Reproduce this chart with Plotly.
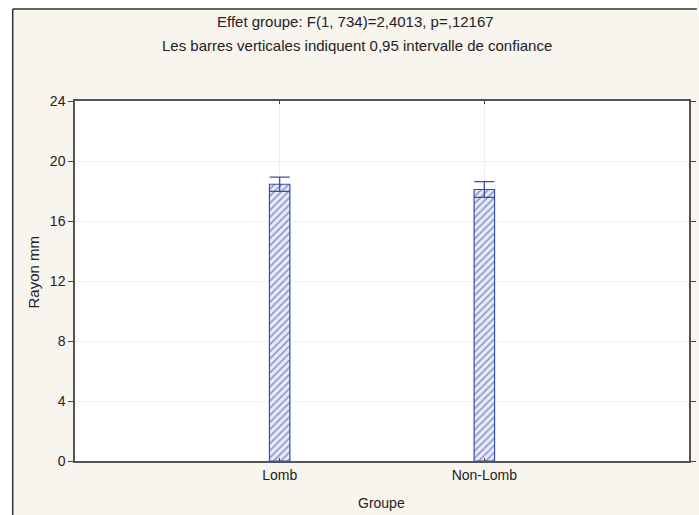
import plotly.graph_objects as go

groups = ["Lomb", "Non-Lomb"]
means = [18.45, 18.1]
ci_half = [0.47, 0.52]
y_ticks = [0, 4, 8, 12, 16, 20, 24]

title_1 = "Effet groupe: F(1, 734)=2,4013, p=,12167"
title_2 = "Les barres verticales indiquent 0,95 intervalle de confiance"
x_title = "Groupe"
y_title = "Rayon mm"

blue = "#3b4ea6"
W, H = 699, 515
L, R, T, B = 75, 3, 101, 54
PW, PH = W - L - R, H - T - B


def px_x(x):
    return (x - L) / PW


def px_y(y):
    return (H - B - y) / PH


fig = go.Figure()
fig.add_trace(go.Bar(
    x=groups, y=means, width=0.1,
    marker=dict(color="#e4e8f6", line=dict(color=blue, width=1.2),
                pattern=dict(shape="/", fgcolor=blue, bgcolor="#e9ecf8", size=5, solidity=0.35)),
    error_y=dict(type="data", array=ci_half, symmetric=True, color=blue, thickness=1.3, width=10),
    showlegend=False,
))

txt = dict(size=14, color="#222222")
fig.update_layout(
    width=W, height=H,
    margin=dict(l=L, r=R, t=T, b=B),
    paper_bgcolor="#f8f4ee", plot_bgcolor="#ffffff",
    font=dict(family="Liberation Sans, Arial, sans-serif", size=14, color="#222222"),
    xaxis=dict(
        range=[-1, 2],
        showline=True, linecolor="#555555", linewidth=1.5, mirror="ticks",
        ticks="inside", ticklen=3, tickcolor="#444444",
        showgrid=True, gridcolor="#efefef", gridwidth=1,
        tickfont=txt,
    ),
    yaxis=dict(
        range=[0, 24], tickvals=y_ticks, ticktext=[str(v) for v in y_ticks],
        showline=True, linecolor="#555555", linewidth=1.5, mirror="ticks",
        ticks="outside", ticklen=5, tickcolor="#444444",
        showgrid=True, gridcolor="#f1f1f1", gridwidth=1, zeroline=False,
        tickfont=txt,
    ),
    annotations=[
        dict(text=title_1, xref="paper", yref="paper", x=px_x(359), y=px_y(22),
             xanchor="center", yanchor="middle", showarrow=False, font=dict(size=15, color="#222222")),
        dict(text=title_2, xref="paper", yref="paper", x=px_x(360), y=px_y(45),
             xanchor="center", yanchor="middle", showarrow=False, font=dict(size=15, color="#222222")),
        dict(text=y_title, xref="paper", yref="paper", x=px_x(33), y=px_y(272),
             xanchor="center", yanchor="middle", textangle=-90, showarrow=False,
             font=dict(size=15, color="#222222")),
        dict(text=x_title, xref="paper", yref="paper", x=px_x(385), y=px_y(503),
             xanchor="center", yanchor="middle", showarrow=False, font=txt),
    ],
    shapes=[
        dict(type="rect", xref="paper", yref="paper",
             x0=px_x(-5), x1=px_x(W + 5), y0=px_y(9), y1=px_y(-5),
             fillcolor="#ffffff", line=dict(width=0)),
        dict(type="rect", xref="paper", yref="paper",
             x0=px_x(-5), x1=px_x(12), y0=px_y(H + 5), y1=px_y(-5),
             fillcolor="#ffffff", line=dict(width=0)),
        dict(type="line", xref="paper", yref="paper",
             x0=px_x(12), x1=px_x(W + 5), y0=px_y(9), y1=px_y(9),
             line=dict(color="#333333", width=1.5)),
        dict(type="line", xref="paper", yref="paper",
             x0=px_x(12), x1=px_x(12), y0=px_y(9), y1=px_y(H + 5),
             line=dict(color="#333333", width=1.5)),
    ],
)

fig.write_html("out.html", config={"displayModeBar": False},
               post_script="document.body.style.margin='0';document.body.style.overflow='hidden';")
